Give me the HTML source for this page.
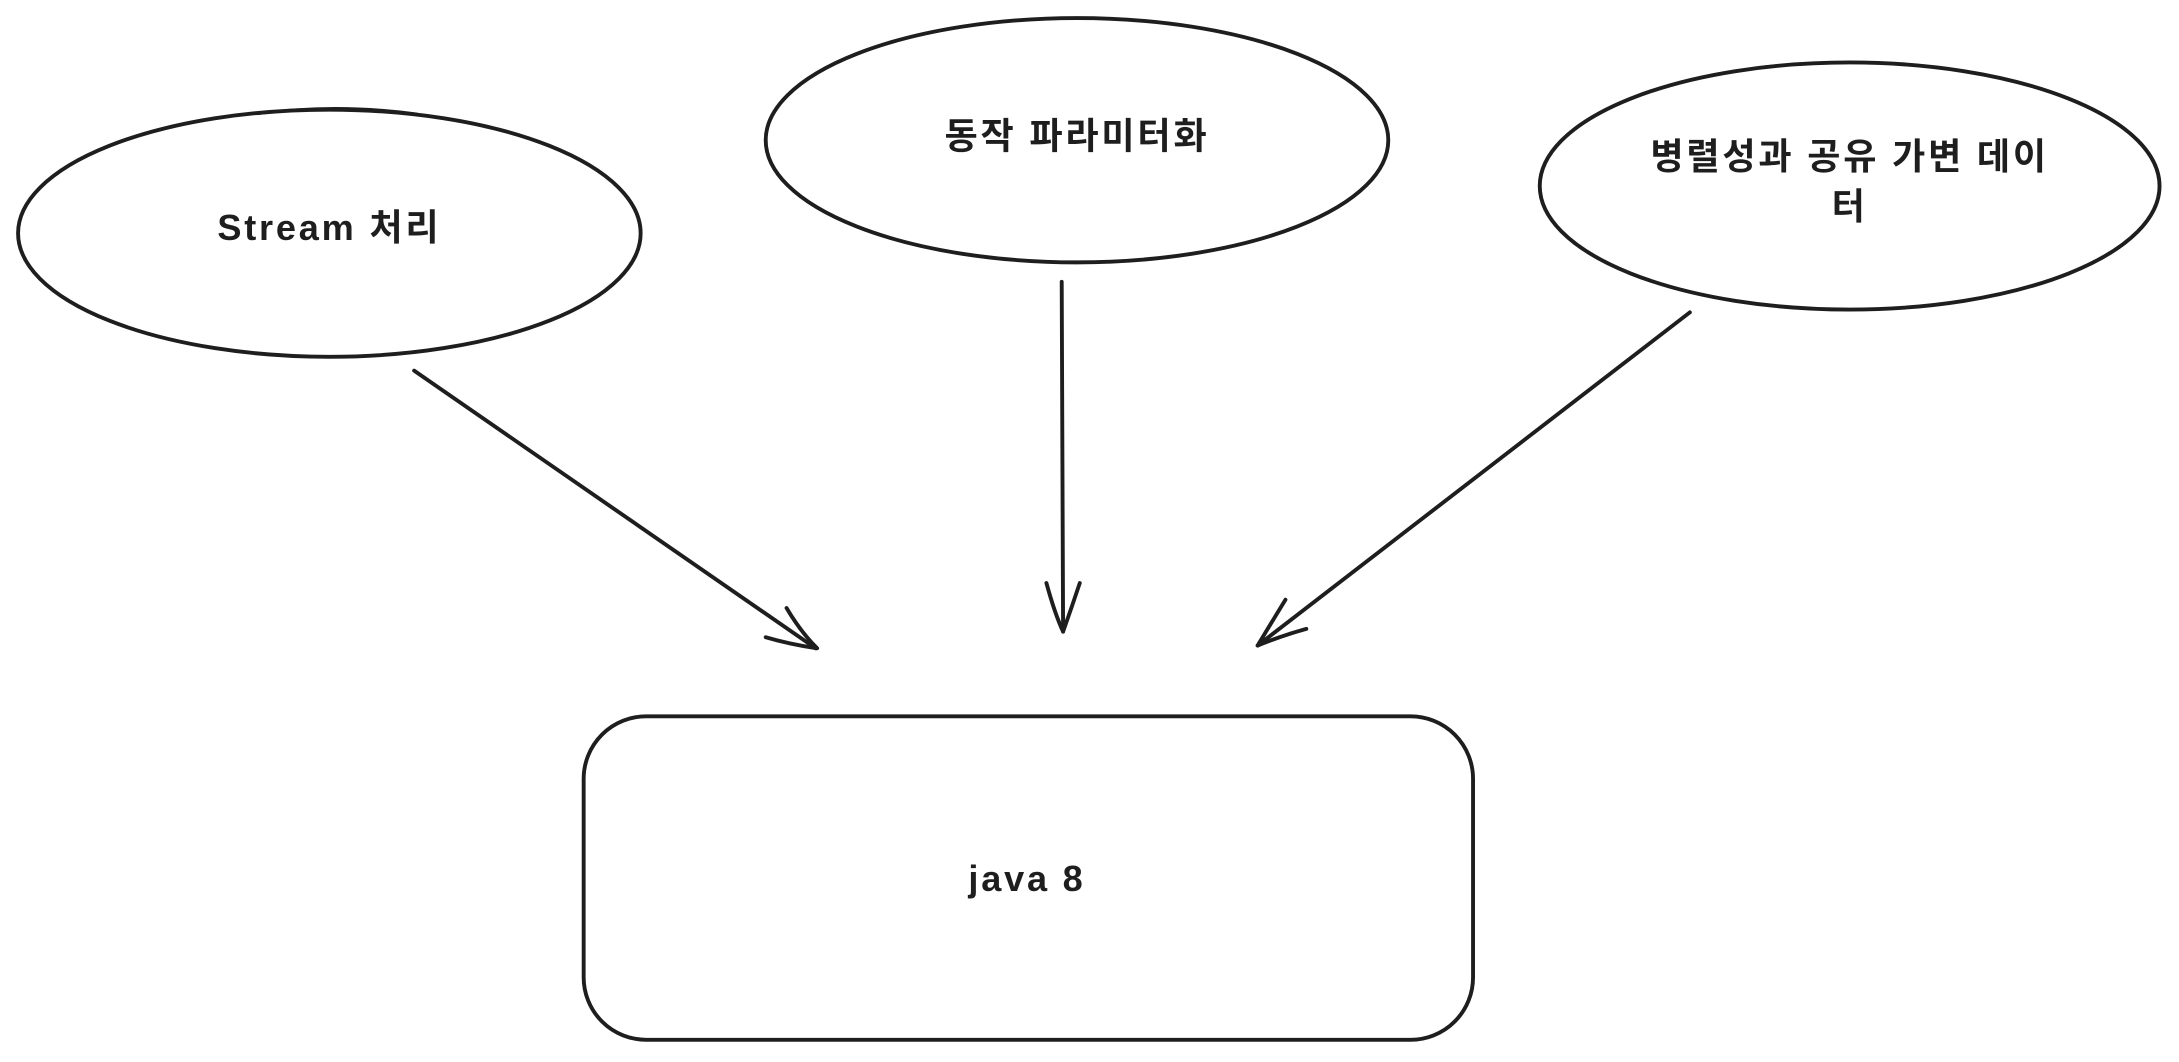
<!DOCTYPE html>
<html><head><meta charset="utf-8"><style>
html,body{margin:0;padding:0;background:#fff;}
svg{display:block;}
text{font-family:"Liberation Sans","Noto Sans CJK KR",sans-serif;font-size:26px;font-weight:600;letter-spacing:2px;fill:#1e1e1e;text-anchor:middle;dominant-baseline:middle;}
</style></head><body>
<svg width="2179" height="1062" viewBox="0 0 1568 765" preserveAspectRatio="none" xmlns="http://www.w3.org/2000/svg">
<g fill="none" stroke="#1e1e1e" stroke-width="2.8" stroke-linecap="round" stroke-linejoin="round">
<ellipse cx="237" cy="168" rx="224" ry="89"/>
<path d="M185 82 Q240 74 300 82" stroke-width="1.8"/>
<ellipse cx="775" cy="101" rx="224" ry="88"/>
<ellipse cx="1331" cy="134" rx="223" ry="89"/>
<path d="M1270 48 Q1330 42 1390 48" stroke-width="1.8"/>
<rect x="420" y="516" width="640" height="233" rx="45" ry="45"/>
<path d="M298 267 L587 467"/>
<path d="M566 438 Q576 455 588 467 Q568 464 551 459"/>
<path d="M764 203 L765 455"/>
<path d="M753 420 Q759 442 765 455 Q771 438 777 420"/>
<path d="M1216 225 L905 465"/>
<path d="M925 432 Q914 450 905 465 Q922 458 940 453"/>
</g>
<text x="237" y="166">Stream 처리</text>
<text x="775" y="100">동작 파라미터화</text>
<text x="1331" y="115">병렬성과 공유 가변 데이</text>
<text x="1331" y="151">터</text>
<text x="739" y="635">java 8</text>
</svg>
</body></html>
